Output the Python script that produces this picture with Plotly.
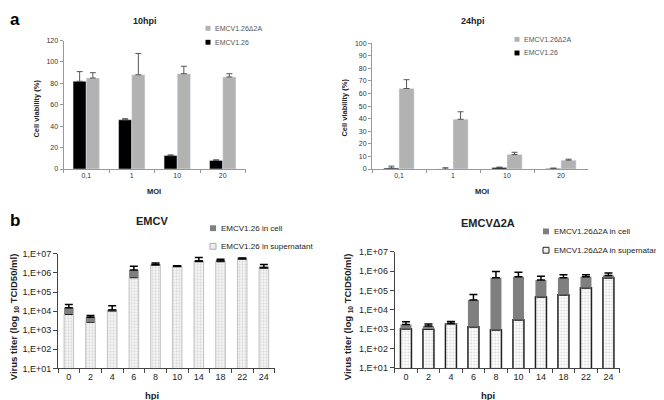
import plotly.graph_objects as go

# ---------------- data ----------------
moi = ["0,1", "1", "10", "20"]
via10_wt = [82, 46, 12.5, 8]
err10_wt = [9, 1, 0.7, 0.6]
via10_d2a = [85, 88, 89, 86]
err10_d2a = [5, 20, 7, 3]
via24_wt = [0.8, 0, 1.2, 0.5]
err24_wt = [1.5, 1, 0.3, 0.2]
via24_d2a = [64, 39.5, 11.5, 7]
err24_d2a = [7, 6, 1.8, 0.8]

hpi = ["0", "2", "4", "6", "8", "10", "14", "18", "22", "24"]
wt_sup = [6.9e3, 2.7e3, 1.0e4, 5.75e5, 2.6e6, 2.2e6, 4.0e6, 4.0e6, 5.3e6, 1.8e6]
wt_sup_err = [1.4e3, 5e2, 1e3, 1.8e5, 2e5, 5e4, 3e5, 2e5, 2e5, 1e5]
wt_cell = [8.1e3, 2.1e3, 1.5e3, 8.4e5, 1.0e5, 5e4, 1e5, 2e5, 2e5, 5e4]
wt_cell_err = [7e3, 1.1e3, 7.5e3, 8.3e5, 6e5, 1e5, 2.4e6, 1e6, 5e5, 9e5]

d2a_sup = [1.05e3, 1.0e3, 1.85e3, 1.35e3, 9.3e2, 3.1e3, 4.8e4, 6.0e4, 1.4e5, 4.6e5]
d2a_sup_err = [1e2, 2.5e2, 1e2, 8.5e2, 3.3e2, 1.8e3, 3.7e4, 1e4, 5.5e4, 6e4]
d2a_cell = [7.3e2, 4.8e2, 1.5e2, 3.1e4, 4.6e5, 5.1e5, 3.0e5, 4.0e5, 3.7e5, 1.4e5]
d2a_cell_err = [6.7e2, 3.8e2, 5e2, 3.1e4, 5.2e5, 3.6e5, 2.0e5, 2.0e5, 1.5e5, 2e5]

log_ticks = [1e1, 1e2, 1e3, 1e4, 1e5, 1e6, 1e7]
log_labels = ["1,E+01", "1,E+02", "1,E+03", "1,E+04", "1,E+05", "1,E+06", "1,E+07"]

# ---------------- helpers ----------------
W, H = 664, 400
FONT = "Liberation Sans, Arial, sans-serif"


def px(x):
    return x / W


def py(y):
    return 1 - y / H


def plus_err(vals, color, thick, width):
    return dict(type="data", array=vals, arrayminus=[0] * len(vals), symmetric=False,
                color=color, thickness=thick, width=width)


fig = go.Figure()

GRAY = "#b2b2b2"
DARK = "#7f7f7f"

# top-left 10hpi
fig.add_trace(go.Bar(x=moi, y=via10_wt, name="EMCV1.26", marker_color="black",
                     offset=-0.29, width=0.29, xaxis="x", yaxis="y",
                     error_y=plus_err(err10_wt, "#555", 1, 3)))
fig.add_trace(go.Bar(x=moi, y=via10_d2a, name="EMCV1.26Δ2A", marker_color=GRAY,
                     offset=0, width=0.29, xaxis="x", yaxis="y",
                     error_y=plus_err(err10_d2a, "#555", 1, 3)))
# top-right 24hpi
fig.add_trace(go.Bar(x=moi, y=via24_wt, name="EMCV1.26", marker_color="black",
                     offset=-0.28, width=0.28, xaxis="x2", yaxis="y2",
                     error_y=plus_err(err24_wt, "#555", 1, 3)))
fig.add_trace(go.Bar(x=moi, y=via24_d2a, name="EMCV1.26Δ2A", marker_color=GRAY,
                     offset=0, width=0.28, xaxis="x2", yaxis="y2",
                     error_y=plus_err(err24_d2a, "#555", 1, 3)))

# bottom-left EMCV
fig.add_trace(go.Bar(x=hpi, y=wt_sup, name="EMCV1.26 in supernatant", width=0.44,
                     marker=dict(color="#f2f2f2", line=dict(color="#c0c0c0", width=1),
                                 pattern=dict(shape=".", fgcolor="#b8b8b8", bgcolor="#f4f4f4",
                                              size=3, solidity=0.3)),
                     xaxis="x3", yaxis="y3",
                     error_y=plus_err(wt_sup_err, "black", 1.5, 4)))
fig.add_trace(go.Bar(x=hpi, y=wt_cell, base=wt_sup, name="EMCV1.26 in cell", width=0.44,
                     marker=dict(color=DARK, line=dict(width=0)),
                     xaxis="x3", yaxis="y3",
                     error_y=plus_err(wt_cell_err, "black", 1.5, 4)))

# bottom-right EMCVΔ2A
fig.add_trace(go.Bar(x=hpi, y=d2a_sup, name="EMCV1.26Δ2A in supernatant", width=0.49,
                     marker=dict(color="white", line=dict(color="#222", width=1.5),
                                 pattern=dict(shape=".", fgcolor="#aaaaaa", bgcolor="white",
                                              size=3, solidity=0.3)),
                     xaxis="x4", yaxis="y4",
                     error_y=plus_err(d2a_sup_err, "black", 1.5, 4)))
fig.add_trace(go.Bar(x=hpi, y=d2a_cell, base=d2a_sup, name="EMCV1.26Δ2A in cell", width=0.49,
                     marker=dict(color=DARK, line=dict(width=0)),
                     xaxis="x4", yaxis="y4",
                     error_y=plus_err(d2a_cell_err, "black", 1.5, 4)))

top_x = dict(type="category", showline=True, linecolor="#999", linewidth=1, ticks="outside",
             tickson="boundaries", ticklen=3, tickcolor="#999",
             tickfont=dict(size=7, color="#333"), showgrid=False, zeroline=False, fixedrange=True)
top_y = dict(showline=True, linecolor="#999", linewidth=1, ticks="outside", ticklen=3,
             tickcolor="#999", tickfont=dict(size=7, color="#333"), showgrid=False,
             zeroline=False, fixedrange=True)
bot_x = dict(type="category", showline=True, linecolor="#444", linewidth=1, ticks="outside",
             tickson="boundaries", ticklen=4, tickcolor="#444",
             tickfont=dict(size=9, color="#222"), showgrid=False, zeroline=False)
bot_y = dict(type="log", range=[1, 7], tickvals=log_ticks, ticktext=log_labels,
             showline=True, linecolor="#444", linewidth=1, ticks="outside", ticklen=4,
             tickcolor="#444", tickfont=dict(size=9, color="#222"), showgrid=False,
             zeroline=False)

fig.update_layout(
    width=W, height=H, margin=dict(l=0, r=0, t=0, b=0),
    paper_bgcolor="white", plot_bgcolor="white",
    font=dict(family=FONT, color="#222"),
    barmode="overlay", showlegend=False,
    xaxis=dict(top_x, domain=[px(55.5), px(237.5)], anchor="y"),
    yaxis=dict(top_y, domain=[py(160), py(28.3)], range=[0, 120], dtick=20, anchor="x"),
    xaxis2=dict(top_x, domain=[px(364), px(580)], anchor="y2"),
    yaxis2=dict(top_y, domain=[py(160), py(31)], range=[0, 100], dtick=10, anchor="x2"),
    xaxis3=dict(bot_x, domain=[px(50), px(266.7)], anchor="y3"),
    yaxis3=dict(bot_y, domain=[py(364.5), py(247)], anchor="x3"),
    xaxis4=dict(bot_x, domain=[px(386.7), px(611.7)], anchor="y4"),
    yaxis4=dict(bot_y, domain=[py(364), py(245)], anchor="x4"),
)

ann = []


def text(x, y, s, size, bold=False, color="#222", angle=0, xanchor="center"):
    ann.append(dict(x=px(x), y=py(y), xref="paper", yref="paper", showarrow=False,
                    text=("<b>%s</b>" % s) if bold else s, textangle=angle,
                    xanchor=xanchor, yanchor="middle",
                    font=dict(size=size, color=color, family=FONT)))


# panel letters and titles
text(7, 7, "a", 17, bold=True, color="black")
text(7, 213, "b", 17, bold=True, color="black")
text(137, 8, "10hpi", 9, bold=True)
text(465, 8, "24hpi", 9, bold=True)
text(144, 213, "EMCV", 11, bold=True)
text(480, 215, "EMCVΔ2A", 11, bold=True)

# axis titles
text(29, 98, "Cell viability (%)", 7.5, bold=True, angle=-90)
text(337, 97, "Cell viability (%)", 7.5, bold=True, angle=-90)
text(146, 183, "MOI", 7.5, bold=True)
text(474, 183, "MOI", 7.5, bold=True)
text(6, 312, "Virus titer (log <sub>10</sub> TCID50/ml)", 9.5, bold=True, angle=-90)
text(340, 312, "Virus titer (log <sub>10</sub> TCID50/ml)", 9.5, bold=True, angle=-90)
text(144, 392, "hpi", 9.5, bold=True)
text(480, 392, "hpi", 9.5, bold=True)

# legends (manual)
shapes = []


def leg(x, y, s, size, fill, line, font_size, color):
    shapes.append(dict(type="rect", xref="paper", yref="paper",
                       x0=px(x - size / 2), x1=px(x + size / 2),
                       y0=py(y + size / 2), y1=py(y - size / 2),
                       fillcolor=fill, line=dict(color=line, width=1 if line != fill else 0)))
    text(x + size / 2 + 2.5, y, s, font_size, color=color, xanchor="left")


leg(200, 15.7, "EMCV1.26Δ2A", 5, GRAY, GRAY, 7, "#555")
leg(200, 30, "EMCV1.26", 5, "black", "black", 7, "#555")
leg(509, 27, "EMCV1.26Δ2A", 5, GRAY, GRAY, 7, "#555")
leg(509, 41, "EMCV1.26", 5, "black", "black", 7, "#555")
leg(205, 220.7, "EMCV1.26 in cell", 6, DARK, DARK, 8, "#222")
leg(205, 239.3, "EMCV1.26 in supernatant", 6, "#eeeeee", "#aaaaaa", 8, "#222")
leg(538, 224, "EMCV1.26Δ2A in cell", 6, DARK, DARK, 8, "#222")
leg(538, 243.3, "EMCV1.26Δ2A in supernatant", 6, "#f0f0f0", "#222", 8, "#222")

fig.update_layout(annotations=ann, shapes=shapes)

fig.write_html("out.html")
